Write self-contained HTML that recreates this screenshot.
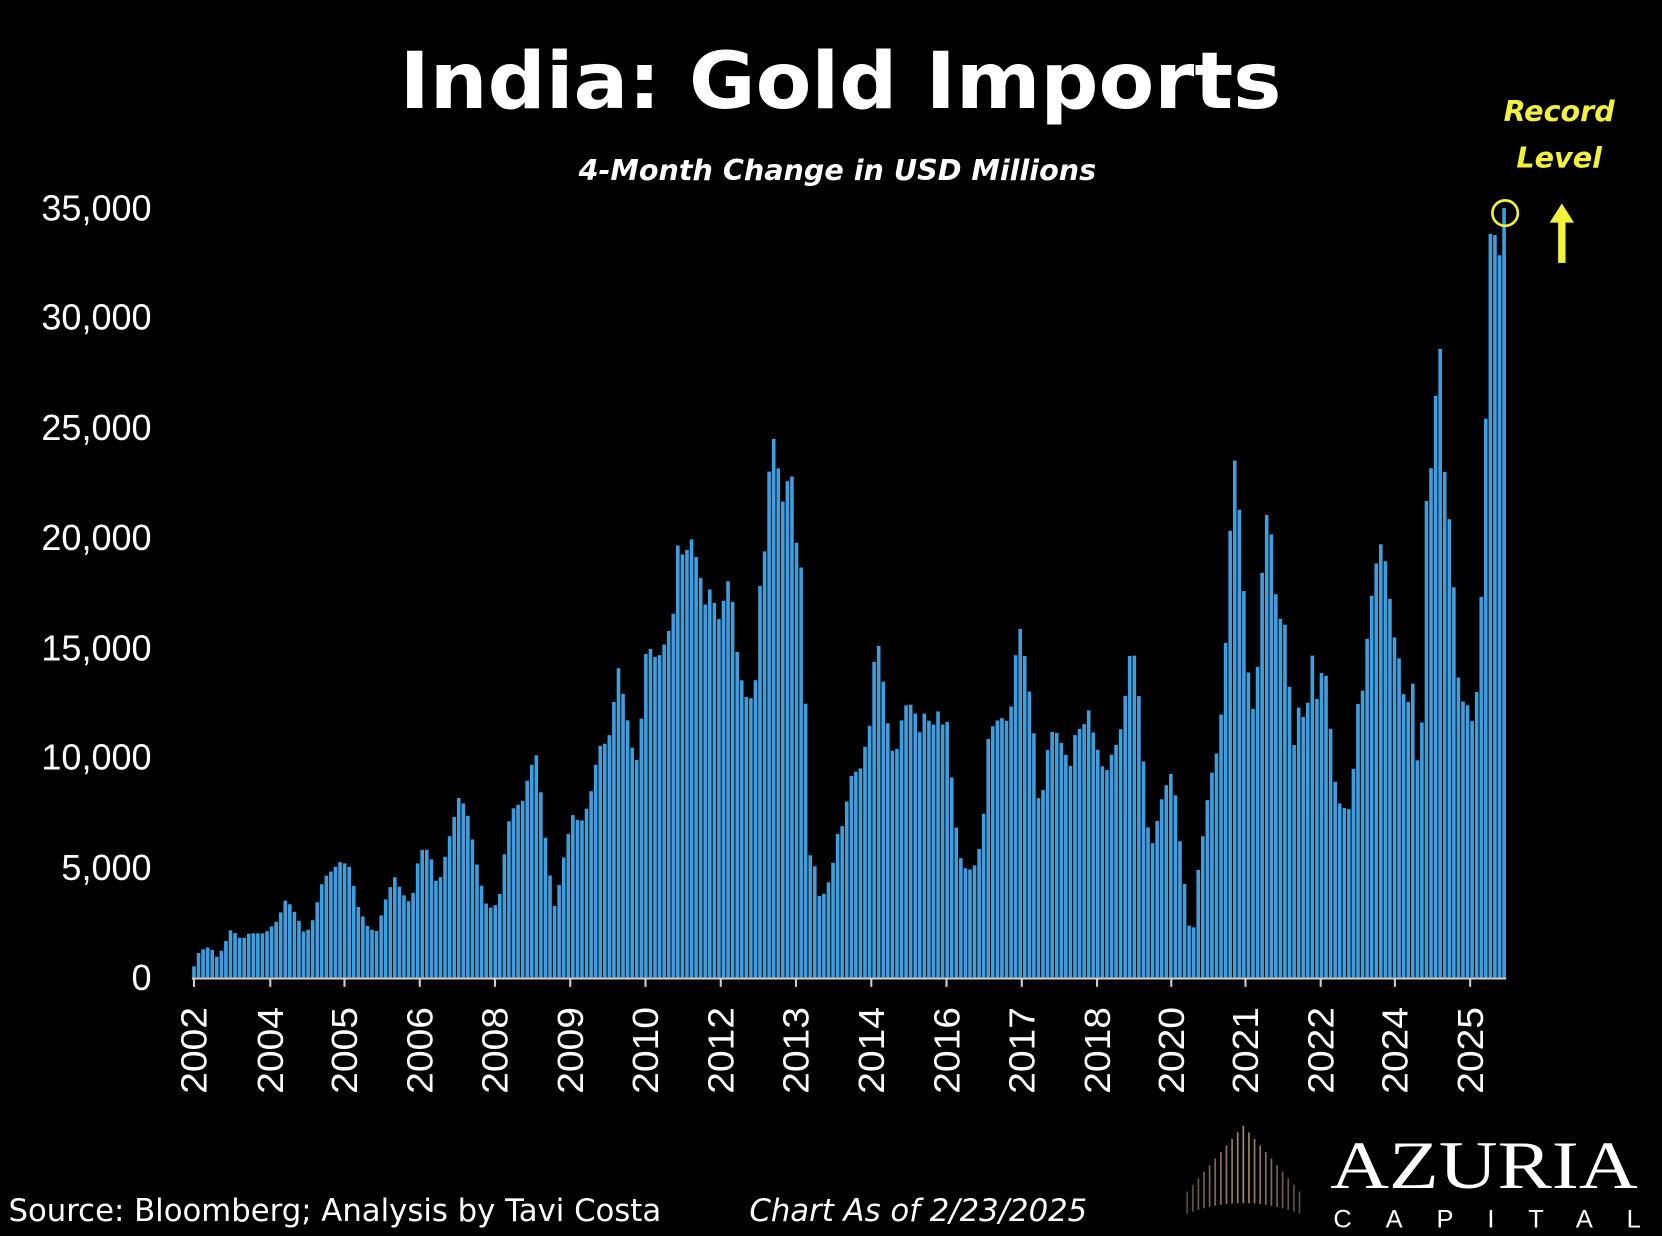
<!DOCTYPE html>
<html><head><meta charset="utf-8"><style>
html,body{margin:0;padding:0;background:#000;}
svg{display:block;}
</style></head><body>
<svg id="c" width="1662" height="1236" viewBox="0 0 1568 1166" xmlns="http://www.w3.org/2000/svg">
<rect width="1568" height="1166" fill="#000"/>
<text x="793" y="102" text-anchor="middle" font-family="'DejaVu Sans','Liberation Sans',sans-serif" font-weight="bold" font-size="74" fill="#fff" textLength="832" lengthAdjust="spacingAndGlyphs">India: Gold Imports</text>
<text x="790" y="170" text-anchor="middle" font-family="'DejaVu Sans','Liberation Sans',sans-serif" font-weight="bold" font-style="italic" font-size="27" fill="#fff">4-Month Change in USD Millions</text>
<g font-family="'Liberation Sans',sans-serif" font-size="34" fill="#fff" text-anchor="end">
<text x="143" y="934">0</text>
<text x="143" y="830">5,000</text>
<text x="143" y="726">10,000</text>
<text x="143" y="623">15,000</text>
<text x="143" y="519">20,000</text>
<text x="143" y="415">25,000</text>
<text x="143" y="311">30,000</text>
<text x="143" y="208">35,000</text>
</g>
<g id="bars"></g>
<line x1="181" y1="923" x2="1421" y2="923" stroke="#ccc" stroke-width="2"/>
<g id="xt"></g>
<g font-family="'DejaVu Sans','Liberation Sans',sans-serif" font-weight="bold" font-style="italic" font-size="27" fill="#f2f23a" text-anchor="middle">
<text x="1471" y="114">Record</text>
<text x="1471" y="158">Level</text>
</g>
<circle cx="1420" cy="201" r="12" fill="none" stroke="#f2f23a" stroke-width="2.5"/>
<rect x="1470" y="208" width="7" height="40" fill="#f2f23a"/>
<polygon points="1462,210 1473.5,192 1485,210" fill="#f2f23a"/>
<text x="8" y="1152" font-family="'DejaVu Sans','Liberation Sans',sans-serif" font-size="29" fill="#fff">Source: Bloomberg; Analysis by Tavi Costa</text>
<text x="707" y="1152" font-family="'DejaVu Sans','Liberation Sans',sans-serif" font-style="italic" font-size="29" fill="#fff">Chart As of 2/23/2025</text>
<g id="logo"></g>
<text x="1400" y="1121" text-anchor="middle" font-family="'Liberation Serif',serif" font-size="64" fill="#fff" textLength="290" lengthAdjust="spacingAndGlyphs">AZURIA</text>
<text x="1403" y="1158" text-anchor="middle" font-family="'Liberation Sans',sans-serif" font-size="24" fill="#fff" textLength="290" lengthAdjust="spacing">CAPITAL</text>
</svg>
<script>
(function(){
var kp=[183,0.5,188,1.2,198,1.4,205,0.9,210,1.3,218,2.2,228,1.7,235,2.0,250,2.0,262,2.6,270,3.6,280,2.8,288,1.9,295,2.6,305,4.5,312,4.8,322,5.3,330,5.0,338,3.2,348,2.2,356,2.1,362,3.3,372,4.6,380,3.8,388,3.3,396,5.8,405,5.8,413,4.0,425,6.6,433,8.2,440,7.7,446,6.2,452,4.6,460,3.1,468,3.3,473,4.0,478,6.8,486,7.9,492,7.8,500,9.5,507,10.2,512,7.5,517,5.3,523,3.2,528,4.3,533,5.8,540,7.4,548,7.0,556,8.0,565,10.5,574,10.7,580,12.8,583,14.2,590,12.3,598,10.0,603,9.8,608,14.6,613,15.0,620,14.4,628,15.3,635,16.4,640,20.0,645,19.0,652,20.0,660,18.5,665,16.9,670,17.7,680,16.0,685,18.2,690,17.7,697,14.0,705,12.6,712,12.8,717,17.8,721,19.1,728,25.0,733,23.7,738,21.5,742,22.5,747,22.9,752,19.4,756,18.6,760,12.6,764,5.6,770,4.9,774,3.3,778,3.9,784,4.6,790,6.5,796,7.0,800,8.4,805,9.6,810,9.1,817,10.7,822,11.8,826,15.6,830,14.9,835,12.7,840,10.5,845,10.0,850,11.6,855,12.4,862,12.4,867,11.0,872,12.0,880,11.4,885,12.1,890,11.4,895,11.7,898,9.0,903,6.4,908,5.0,915,4.9,922,5.2,928,7.4,932,10.8,938,11.6,945,11.8,952,11.6,957,13.5,960,16.4,965,15.3,970,13.4,975,11.6,978,8.0,985,8.6,990,11.2,998,11.1,1004,10.3,1010,9.6,1015,11.3,1022,11.3,1026,12.4,1032,11.0,1040,9.6,1045,9.4,1050,10.4,1055,10.7,1060,12.0,1065,14.6,1070,14.7,1074,13.1,1078,10.5,1082,7.0,1088,6.0,1094,7.8,1100,8.7,1105,9.3,1110,8.0,1115,5.2,1119,3.7,1123,1.8,1127,2.4,1132,6.0,1136,6.6,1140,8.5,1145,9.7,1150,10.6,1155,14.0,1158,16.8,1162,22.2,1166,24.0,1170,20.6,1175,16.3,1180,12.0,1185,12.5,1189,17.0,1194,21.0,1198,21.1,1203,17.6,1208,16.3,1213,16.0,1217,12.9,1222,9.9,1227,13.6,1230,11.5,1235,12.8,1238,14.7,1242,12.5,1245,13.6,1250,14.3,1255,11.5,1260,8.7,1265,7.7,1270,7.7,1275,7.6,1278,10.6,1282,12.9,1287,13.1,1292,17.2,1296,17.5,1300,19.7,1305,19.7,1310,17.8,1315,15.6,1320,14.5,1325,12.6,1330,12.5,1333,13.4,1337,9.8,1342,11.8,1345,21.4,1350,23.1,1354,25.6,1357,32.0,1361,24.0,1365,22.0,1370,19.5,1375,14.1,1378,12.6,1382,12.5,1386,12.3,1390,11.4,1395,13.9,1400,20.8,1405,33.8,1410,33.9,1414,32.5,1419,35.0];
function val(x){for(var i=0;i<kp.length-2;i+=2){if(x<=kp[i+2]){var a=kp[i],b=kp[i+2];var t=(x-a)/(b-a);return kp[i+1]+(kp[i+3]-kp[i+1])*t;}}return kp[kp.length-1];}
var g=document.getElementById("bars"),s="";
var n=288,step=(1419-183)/(n-1);
for(var i=0;i<n;i++){var x=183+i*step;var v=val(x);var h=v*103.7/5;s+='<rect x="'+(x-1.7).toFixed(2)+'" y="'+(922-h).toFixed(2)+'" width="3.4" height="'+h.toFixed(2)+'" fill="#3f9ede"/>';}
g.innerHTML=s;
var yrs=[[183,2002],[255,2004],[325,2005],[396,2006],[467,2008],[538,2009],[609,2010],[680,2012],[751,2013],[822,2014],[893,2016],[964,2017],[1035,2018],[1105,2020],[1175,2021],[1246,2022],[1316,2024],[1387,2025]];
s="";
yrs.forEach(function(p){s+='<line x1="'+p[0]+'" y1="923" x2="'+p[0]+'" y2="931" stroke="#ccc" stroke-width="2"/>';
s+='<text transform="translate('+(p[0]+12)+',950) rotate(-90)" text-anchor="end" font-family="\'Liberation Sans\',sans-serif" font-size="34" fill="#fff" textLength="82" lengthAdjust="spacingAndGlyphs">'+p[1]+'</text>';});
document.getElementById("xt").innerHTML=s;
s="";
for(var i=0;i<=20;i++){var xx=1120+i*5.3;var d=Math.abs(xx-1173)/53;var yt=1062+d*62;var yb=1145-(1-d*d)*10;s+='<line x1="'+xx.toFixed(1)+'" y1="'+yt.toFixed(1)+'" x2="'+xx.toFixed(1)+'" y2="'+yb.toFixed(1)+'" stroke="#b49a72" stroke-width="1.6" opacity="'+(0.9-d*0.4).toFixed(2)+'"/>';}
document.getElementById("logo").innerHTML=s;
})();
</script>
</body></html>
